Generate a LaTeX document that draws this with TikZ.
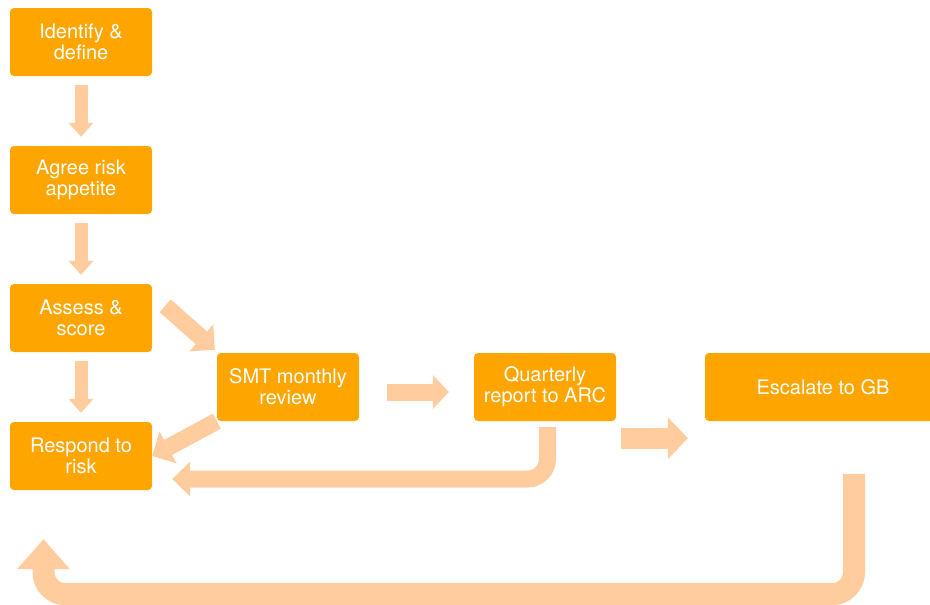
\documentclass[tikz,border=0pt]{standalone}
\usepackage{fontspec}
\setmainfont{TeX Gyre Heros}
\usetikzlibrary{arrows.meta}

\definecolor{boxorange}{RGB}{255,165,0}
\definecolor{arrowpeach}{RGB}{255,204,158}

\begin{document}
\begin{tikzpicture}[x=1pt,y=-1pt,
    riquadro/.style={rectangle, fill=boxorange, rounded corners=4pt,
        minimum width=142pt, minimum height=68pt, inner sep=0pt,
        text=white, align=center, font=\fontsize{20}{21}\selectfont},
    freccia/.style={draw=arrowpeach, line width=13pt,
        -{Triangle[width=25pt,length=14pt,line width=0pt]},
        shorten <=9pt, shorten >=9pt},
    diagonale/.style={draw=arrowpeach, line width=17pt,
        -{Triangle[width=36pt,length=18pt,line width=0pt]}},
    media/.style={draw=arrowpeach, line width=17pt,
        -{Triangle[width=34pt,length=16pt,line width=0pt]}},
    larga/.style={draw=arrowpeach, line width=21pt,
        -{Triangle[width=42pt,length=20pt,line width=0pt]}},
    ritorno/.style={draw=arrowpeach, line width=22pt, rounded corners=22pt,
        -{Triangle[width=53pt,length=30pt,line width=0pt]}}]

    % Dimensioni della figura
    \useasboundingbox (0,0) rectangle (930,605);
    \clip (0,0) rectangle (930,605);

    % Disegna i riquadri
    \node[riquadro] (identify) at (81,42) {Identify \&\\define};
    \node[riquadro] (agree) at (81,180) {Agree risk\\appetite};
    \node[riquadro] (assess) at (81,318) {Assess \&\\score};
    \node[riquadro] (respond) at (81,456) {Respond to\\risk};
    \node[riquadro] (smt) at (288,387) {SMT monthly\\review};
    \node[riquadro] (quarterly) at (545,387) {Quarterly\\report to ARC};
    \node[riquadro, minimum width=236pt] (escalate) at (823,387) {Escalate to GB};

    % Frecce verticali a sinistra
    \draw[freccia] (identify) -- (agree);
    \draw[freccia] (agree) -- (assess);
    \draw[freccia] (assess) -- (respond);

    % Frecce diagonali
    \draw[diagonale] ([shift={(13,22)}]assess.north east) -- ([shift={(-2,-3)}]smt.north west);
    \draw[diagonale] (smt.south west) -- (respond.east);

    % Frecce orizzontali
    \draw[media] ([shift={(28,5)}]smt.east) -- ([shift={(-25,5)}]quarterly.west);
    \draw[larga] ([shift={(5,17)}]quarterly.south east) -- ([shift={(-17,17)}]escalate.south west);

    % Frecce di ritorno
    \coordinate (qstart) at ([shift={(2.5,6)}]quarterly.south);
    \coordinate (qtip) at ([shift={(20,23)}]respond.east);
    \draw[media, rounded corners=20pt, -{Triangle[width=35pt,length=18pt,line width=0pt]}]
        (qstart) |- (qtip);
    \coordinate (gstart) at ([shift={(31,53)}]escalate.south);
    \coordinate (gtip) at ([shift={(-37.5,49)}]respond.south);
    \draw[ritorno] (gstart) -- ++(0,120) -| (gtip);
\end{tikzpicture}
\end{document}
